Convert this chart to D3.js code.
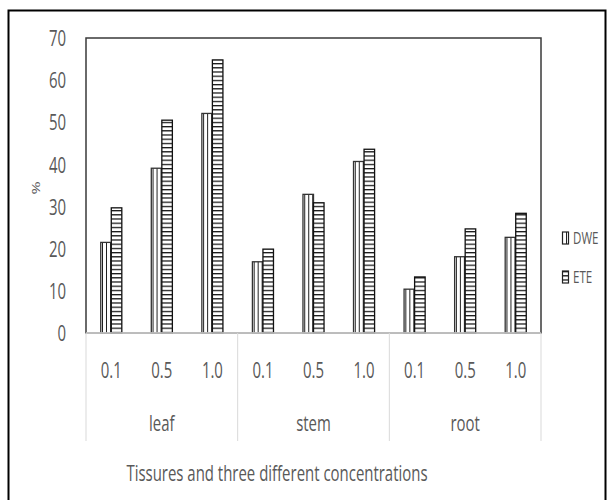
<!DOCTYPE html>
<html>
<head>
<meta charset="utf-8">
<script src="https://cdn.jsdelivr.net/npm/d3@7"></script>
<style>
  html, body { margin: 0; padding: 0; background: #fff; }
  svg { display: block; }
  text { font-family: "Open Sans", "Liberation Sans", sans-serif; fill: #595959; }
</style>
</head>
<body>
<svg id="chart" width="609" height="500"></svg>
<script>
// Tissues, concentrations and the two extraction series
const tissues = ["leaf", "stem", "root"];
const concentrations = ["0.1", "0.5", "1.0"];
const seriesNames = ["DWE", "ETE"];
const dweValues = [21.5, 39.1, 52.1, 16.9, 32.9, 40.7, 10.4, 18.1, 22.7];
const eteValues = [29.7, 50.5, 64.8, 19.9, 30.9, 43.6, 13.3, 24.7, 28.4];
const yTicks = [0, 10, 20, 30, 40, 50, 60, 70];
const yTitle = "%";
const xTitle = "Tissures and three different concentrations";

const rows = [];
tissues.forEach((t, i) => concentrations.forEach((c, j) => {
  const k = i * concentrations.length + j;
  rows.push({ tissue: t, conc: c, DWE: dweValues[k], ETE: eteValues[k] });
}));

const svg = d3.select("#chart");
const plot = { left: 86, right: 541, top: 38, bottom: 333 };
const SX = 0.68; // horizontal squeeze for the narrow label face

// Patterns: vertical hatching for DWE, horizontal for ETE
const defs = svg.append("defs");
const pv = defs.append("pattern").attr("id", "pat-DWE")
  .attr("patternUnits", "userSpaceOnUse").attr("width", 4).attr("height", 4);
pv.append("rect").attr("width", 4).attr("height", 4).attr("fill", "#fff");
pv.append("line").attr("x1", 0.5).attr("x2", 0.5).attr("y1", 0).attr("y2", 4)
  .attr("stroke", "#222").attr("stroke-width", 1);
const ph = defs.append("pattern").attr("id", "pat-ETE")
  .attr("patternUnits", "userSpaceOnUse").attr("width", 4).attr("height", 4.2);
ph.append("rect").attr("width", 4).attr("height", 4.2).attr("fill", "#fff");
ph.append("line").attr("x1", 0).attr("x2", 4).attr("y1", 0.6).attr("y2", 0.6)
  .attr("stroke", "#111").attr("stroke-width", 1.3);

// Outer frame
svg.append("rect").attr("x", 8.5).attr("y", 10.5).attr("width", 597).attr("height", 520)
  .attr("fill", "none").attr("stroke", "#000").attr("stroke-width", 2);

// Scales
const xTissue = d3.scaleBand().domain(tissues).range([plot.left, plot.right]).padding(0);
const xConc = d3.scaleBand().domain(concentrations).range([0, xTissue.bandwidth()]).padding(0);
const xSeries = d3.scaleBand().domain(seriesNames).range([0, xConc.bandwidth()])
  .paddingInner(0).paddingOuter(1.4);
const y = d3.scaleLinear().domain([0, 70]).range([plot.bottom, plot.top]);

// Plot-area border
svg.append("rect").attr("x", plot.left).attr("y", plot.top)
  .attr("width", plot.right - plot.left).attr("height", plot.bottom - plot.top)
  .attr("fill", "none").attr("stroke", "#3a3a3a").attr("stroke-width", 1.5);

// Bars
const groups = svg.append("g").selectAll("g").data(rows).join("g")
  .attr("transform", d => `translate(${xTissue(d.tissue) + xConc(d.conc)},0)`);
groups.selectAll("rect").data(d => seriesNames.map(s => ({ s, v: d[s] }))).join("rect")
  .attr("x", d => xSeries(d.s))
  .attr("y", d => y(d.v))
  .attr("width", xSeries.bandwidth())
  .attr("height", d => y(0) - y(d.v))
  .attr("fill", d => `url(#pat-${d.s})`)
  .attr("stroke", d => d.s === "ETE" ? "#111" : "#333")
  .attr("stroke-width", 1.3);

// Category axis line and group separators
svg.append("line").attr("x1", plot.left).attr("x2", plot.right)
  .attr("y1", plot.bottom).attr("y2", plot.bottom)
  .attr("stroke", "#d9d9d9").attr("stroke-width", 1.5);
const sepX = tissues.map(t => xTissue(t)).concat([plot.right]);
svg.append("g").selectAll("line").data(sepX).join("line")
  .attr("x1", d => d).attr("x2", d => d)
  .attr("y1", plot.bottom).attr("y2", 441)
  .attr("stroke", "#d9d9d9").attr("stroke-width", 1);

// Y axis
const yAxis = svg.append("g").attr("transform", `translate(${plot.left},0)`)
  .call(d3.axisLeft(y).tickValues(yTicks).tickSize(0).tickPadding(0).tickFormat(d3.format("d")));
yAxis.select(".domain").remove();
yAxis.selectAll("text")
  .attr("x", -20 / SX)
  .attr("dy", "0.35em")
  .attr("transform", `scale(${SX},1)`)
  .style("font-size", "22px").style("fill", "#595959")
  .style("font-family", "'Open Sans', sans-serif");

// Concentration labels
svg.append("g").selectAll("text").data(rows).join("text")
  .attr("transform", d => `translate(${xTissue(d.tissue) + xConc(d.conc) + xConc.bandwidth() / 2},378) scale(${SX},1)`)
  .attr("text-anchor", "middle")
  .style("font-size", "22px")
  .text(d => d.conc);

// Tissue labels
svg.append("g").selectAll("text").data(tissues).join("text")
  .attr("transform", t => `translate(${xTissue(t) + xTissue.bandwidth() / 2},431) scale(${SX},1)`)
  .attr("text-anchor", "middle")
  .style("font-size", "22px")
  .text(t => t);

// Axis titles
svg.append("text")
  .attr("transform", `translate(40,188) rotate(-90) scale(1,${SX})`)
  .attr("text-anchor", "middle")
  .style("font-size", "16px")
  .text(yTitle);
svg.append("text")
  .attr("transform", `translate(277,481) scale(${SX},1)`)
  .attr("text-anchor", "middle")
  .style("font-size", "22px")
  .text(xTitle);

// Legend
const legend = svg.append("g").selectAll("g").data(seriesNames).join("g")
  .attr("transform", (d, i) => `translate(562,${232 + i * 39})`);
legend.append("rect").attr("x", 0.5).attr("y", 0).attr("width", 6).attr("height", 12)
  .attr("fill", d => `url(#pat-${d})`).attr("stroke", "#222").attr("stroke-width", 1.2);
legend.append("text")
  .attr("transform", `translate(11,12) scale(${SX},1)`)
  .style("font-size", "17px")
  .text(d => d);
</script>
</body>
</html>
